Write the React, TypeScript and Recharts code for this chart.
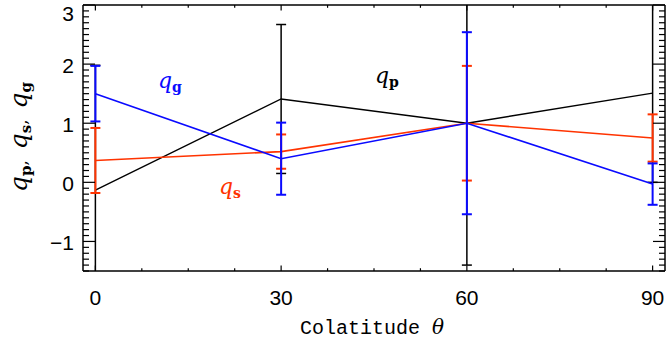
import React from 'react';
import { LineChart, Line, XAxis, YAxis, ErrorBar, Customized } from 'recharts';

// colatitude samples and the three fitted quantities with their errors
const theta = [0, 30, 60, 90];
const qp = [-0.13, 1.41, 1.0, 1.51];
const qpErr = [2.11, 1.26, 2.4, 1.51];
const qs = [0.37, 0.52, 1.0, 0.75];
const qsErr = [0.55, 0.29, 0.97, 0.4];
const qg = [1.5, 0.4, 1.0, -0.03];
const qgErr = [0.47, 0.61, 1.54, 0.35];

const xMajor = [0, 30, 60, 90];
const yMajor = [-1, 0, 1, 2, 3];
const xTicks = Array.from({ length: 13 }, (_, i) => i * 7.5);
const yTicks = Array.from({ length: 46 }, (_, i) => Math.round((-1.5 + i * 0.1) * 10) / 10);

const data = theta.map((t, i) => ({
  theta: t,
  qp: qp[i],
  qpErr: qpErr[i],
  qs: qs[i],
  qsErr: qsErr[i],
  qg: qg[i],
  qgErr: qgErr[i],
}));

const BLUE = '#0a0aff';
const RED = '#ff3300';
const tickFont = '"Liberation Sans", Arial, sans-serif';
const mathFont = '"DejaVu Serif", serif';
const CLIP = 'url(#plotClip)';

const isMajor = (v: number, majors: number[]) => majors.some((m) => Math.abs(m - v) < 1e-6);
const label = (v: number) => (v < 0 ? `\u2212${Math.abs(v)}` : `${v}`);

function BottomTick({ x, y, payload }: any) {
  const major = isMajor(payload.value, xMajor);
  return (
    <g>
      <line x1={x} x2={x} y1={y} y2={y - (major ? 5.5 : 2.8)} stroke="#000" strokeWidth={1.2} />
      {major && (
        <text x={x} y={y + 34} textAnchor="middle" fontFamily={tickFont} fontSize={21} fill="#000">
          {payload.value}
        </text>
      )}
    </g>
  );
}

function TopTick({ x, y, payload }: any) {
  const major = isMajor(payload.value, xMajor);
  return <line x1={x} x2={x} y1={y} y2={y + (major ? 5.5 : 2.8)} stroke="#000" strokeWidth={1.2} />;
}

function LeftTick({ x, y, payload }: any) {
  const major = isMajor(payload.value, yMajor);
  return (
    <g>
      <line x1={x} x2={x + (major ? 12 : 6)} y1={y} y2={y} stroke="#000" strokeWidth={1.2} />
      {major && (
        <text x={x - 9} y={Math.max(y + 9, 21)} textAnchor="end" fontFamily={tickFont} fontSize={21} fill="#000">
          {label(payload.value)}
        </text>
      )}
    </g>
  );
}

function RightTick({ x, y, payload }: any) {
  const major = isMajor(payload.value, yMajor);
  return <line x1={x} x2={x - (major ? 12 : 6)} y1={y} y2={y} stroke="#000" strokeWidth={1.2} />;
}

function Q({ x, y, sub, color, size = 22 }: { x: number; y: number; sub: string; color: string; size?: number }) {
  return (
    <text x={x} y={y} fill={color} fontFamily={mathFont}>
      <tspan fontStyle="italic" fontSize={size}>q</tspan>
      <tspan fontSize={14} fontWeight="bold" dy={4}>{sub}</tspan>
    </text>
  );
}

function Labels(props: any) {
  const off = props.offset || { left: 83, top: 5, width: 582, height: 266 };
  return (
    <g>
      <defs>
        <clipPath id="plotClip">
          <rect x={off.left} y={off.top} width={off.width} height={off.height} />
        </clipPath>
      </defs>
      <Q x={158} y={88} sub="g" color={BLUE} />
      <Q x={375} y={83} sub="p" color="#000" />
      <Q x={219} y={194} sub="s" color={RED} />
      <text
        transform="translate(27,137) rotate(-90)"
        textAnchor="middle"
        fontFamily={mathFont}
        fill="#000"
      >
        <tspan fontStyle="italic" fontSize={25}>q</tspan>
        <tspan fontSize={15} fontWeight="bold" dy={4}>p</tspan>
        <tspan fontSize={17} dy={-4}>,{'\u00a0\u00a0'}</tspan>
        <tspan fontStyle="italic" fontSize={25}>q</tspan>
        <tspan fontSize={15} fontWeight="bold" dy={4}>s</tspan>
        <tspan fontSize={17} dy={-4}>,{'\u00a0\u00a0'}</tspan>
        <tspan fontStyle="italic" fontSize={25}>q</tspan>
        <tspan fontSize={15} fontWeight="bold" dy={4}>g</tspan>
      </text>
      <text x={372} y={334} textAnchor="middle" fill="#000">
        <tspan fontFamily='"Liberation Mono", monospace' fontSize={20}>Colatitude </tspan>
        <tspan fontFamily={mathFont} fontStyle="italic" fontSize={20}>θ</tspan>
      </text>
    </g>
  );
}

export default function App() {
  return (
    <div style={{ position: 'absolute', left: 0, top: 0, background: '#fff' }}>
      <LineChart width={666} height={345} data={data} margin={{ top: 4, right: 0, bottom: 0, left: 0 }}>
        <Customized component={Labels} />
        <XAxis
          dataKey="theta"
          type="number"
          domain={[-2, 92]}
          allowDataOverflow
          ticks={xTicks}
          interval={0}
          height={74}
          tickSize={0}
          tickMargin={0}
          tickLine={false}
          tick={<BottomTick />}
          axisLine={{ stroke: '#000', strokeWidth: 1.5 }}
        />
        <XAxis
          xAxisId="top"
          orientation="top"
          dataKey="theta"
          type="number"
          domain={[-2, 92]}
          allowDataOverflow
          ticks={xTicks}
          interval={0}
          height={1}
          tickSize={0}
          tickMargin={0}
          tickLine={false}
          tick={<TopTick />}
          axisLine={{ stroke: '#000', strokeWidth: 1.5 }}
        />
        <YAxis
          type="number"
          domain={[-1.5, 3]}
          allowDataOverflow
          ticks={yTicks}
          interval={0}
          width={83}
          tickSize={0}
          tickMargin={0}
          tickLine={false}
          tick={<LeftTick />}
          axisLine={{ stroke: '#000', strokeWidth: 1.5 }}
        />
        <YAxis
          yAxisId="right"
          orientation="right"
          type="number"
          domain={[-1.5, 3]}
          allowDataOverflow
          ticks={yTicks}
          interval={0}
          width={1}
          tickSize={0}
          tickMargin={0}
          tickLine={false}
          tick={<RightTick />}
          axisLine={{ stroke: '#000', strokeWidth: 1.5 }}
        />
        <Line dataKey="qp" stroke="#000" strokeWidth={1.4} dot={false} activeDot={false} isAnimationActive={false}>
          <ErrorBar dataKey="qpErr" direction="y" width={5} stroke="#000" strokeWidth={1.5} clipPath={CLIP} isAnimationActive={false} />
        </Line>
        <Line dataKey="qs" stroke={RED} strokeWidth={1.6} dot={false} activeDot={false} isAnimationActive={false}>
          <ErrorBar dataKey="qsErr" direction="y" width={5} stroke={RED} strokeWidth={2} clipPath={CLIP} isAnimationActive={false} />
        </Line>
        <Line dataKey="qg" stroke={BLUE} strokeWidth={1.6} dot={false} activeDot={false} isAnimationActive={false}>
          <ErrorBar dataKey="qgErr" direction="y" width={5} stroke={BLUE} strokeWidth={2} clipPath={CLIP} isAnimationActive={false} />
        </Line>
      </LineChart>
    </div>
  );
}
